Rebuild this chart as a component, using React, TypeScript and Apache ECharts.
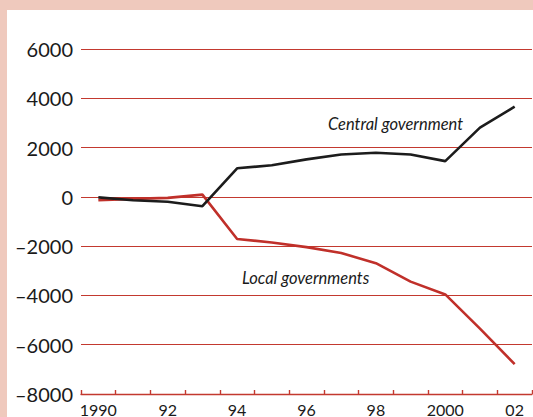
import React, { useEffect, useRef } from "react";
import * as echarts from "echarts";

const categories = ["1990", "91", "92", "93", "94", "95", "96", "97", "98", "99", "2000", "01", "02"];
const centralGovernment = [-20, -140, -200, -380, 1160, 1280, 1520, 1720, 1790, 1720, 1450, 2810, 3660];
const localGovernments = [-140, -80, -40, 90, -1710, -1850, -2040, -2280, -2690, -3440, -3960, -5350, -6790];
const yMin = -8000;
const yMax = 6000;
const yInterval = 2000;

const FONT = "Lato, 'Open Sans', sans-serif";

export default function App() {
  const ref = useRef<HTMLDivElement>(null);
  useEffect(() => {
    if (!ref.current) return;
    const chart = echarts.init(ref.current, undefined, { renderer: "svg" });
    chart.setOption({
      animation: false,
      grid: { left: 81, right: 1, top: 49, bottom: 22, containLabel: false },
      xAxis: {
        type: "category",
        data: categories,
        boundaryGap: true,
        z: 5,
        axisLine: { show: true, onZero: false, lineStyle: { color: "#C3392F", width: 1.3 } },
        axisTick: { show: true, inside: true, length: 4, interval: 0, lineStyle: { color: "#C3392F", width: 1.4 } },
        axisLabel: { interval: 1, margin: 7, fontSize: 16, color: "#1a1a1a", fontFamily: FONT },
        splitLine: { show: false },
      },
      yAxis: {
        type: "value",
        min: yMin,
        max: yMax,
        interval: yInterval,
        axisLine: { show: false },
        axisTick: { show: false },
        axisLabel: {
          margin: 8,
          fontSize: 20,
          color: "#1a1a1a",
          fontFamily: FONT,
          formatter: (v: number) => String(v).replace("-", "\u2013"),
        },
        splitLine: { show: true, lineStyle: { color: "#C3392F", width: 1.2 } },
      },
      series: [
        {
          name: "Central government",
          type: "line",
          data: centralGovernment,
          symbol: "none",
          lineStyle: { color: "#1c1c1c", width: 2.6 },
          z: 3,
        },
        {
          name: "Local governments",
          type: "line",
          data: localGovernments,
          symbol: "none",
          lineStyle: { color: "#C0302A", width: 2.6 },
          z: 2,
        },
      ],
      graphic: [
        {
          type: "text",
          left: 328,
          top: 115,
          style: {
            text: "Central government",
            font: `italic 16.5px ${FONT}`,
            fill: "#1a1a1a",
          },
        },
        {
          type: "text",
          left: 242,
          top: 269,
          style: {
            text: "Local governments",
            font: `italic 16.5px ${FONT}`,
            fill: "#1a1a1a",
          },
        },
      ],
    });
    return () => chart.dispose();
  }, []);

  return (
    <div style={{ position: "fixed", left: 0, top: 0, width: 533, height: 417, background: "#EFC9BD", overflow: "hidden" }}>
      <div style={{ position: "absolute", left: 7, top: 10, width: 526, height: 407, background: "#ffffff" }} />
      <div ref={ref} style={{ position: "absolute", left: 0, top: 0, width: 533, height: 417 }} />
    </div>
  );
}
